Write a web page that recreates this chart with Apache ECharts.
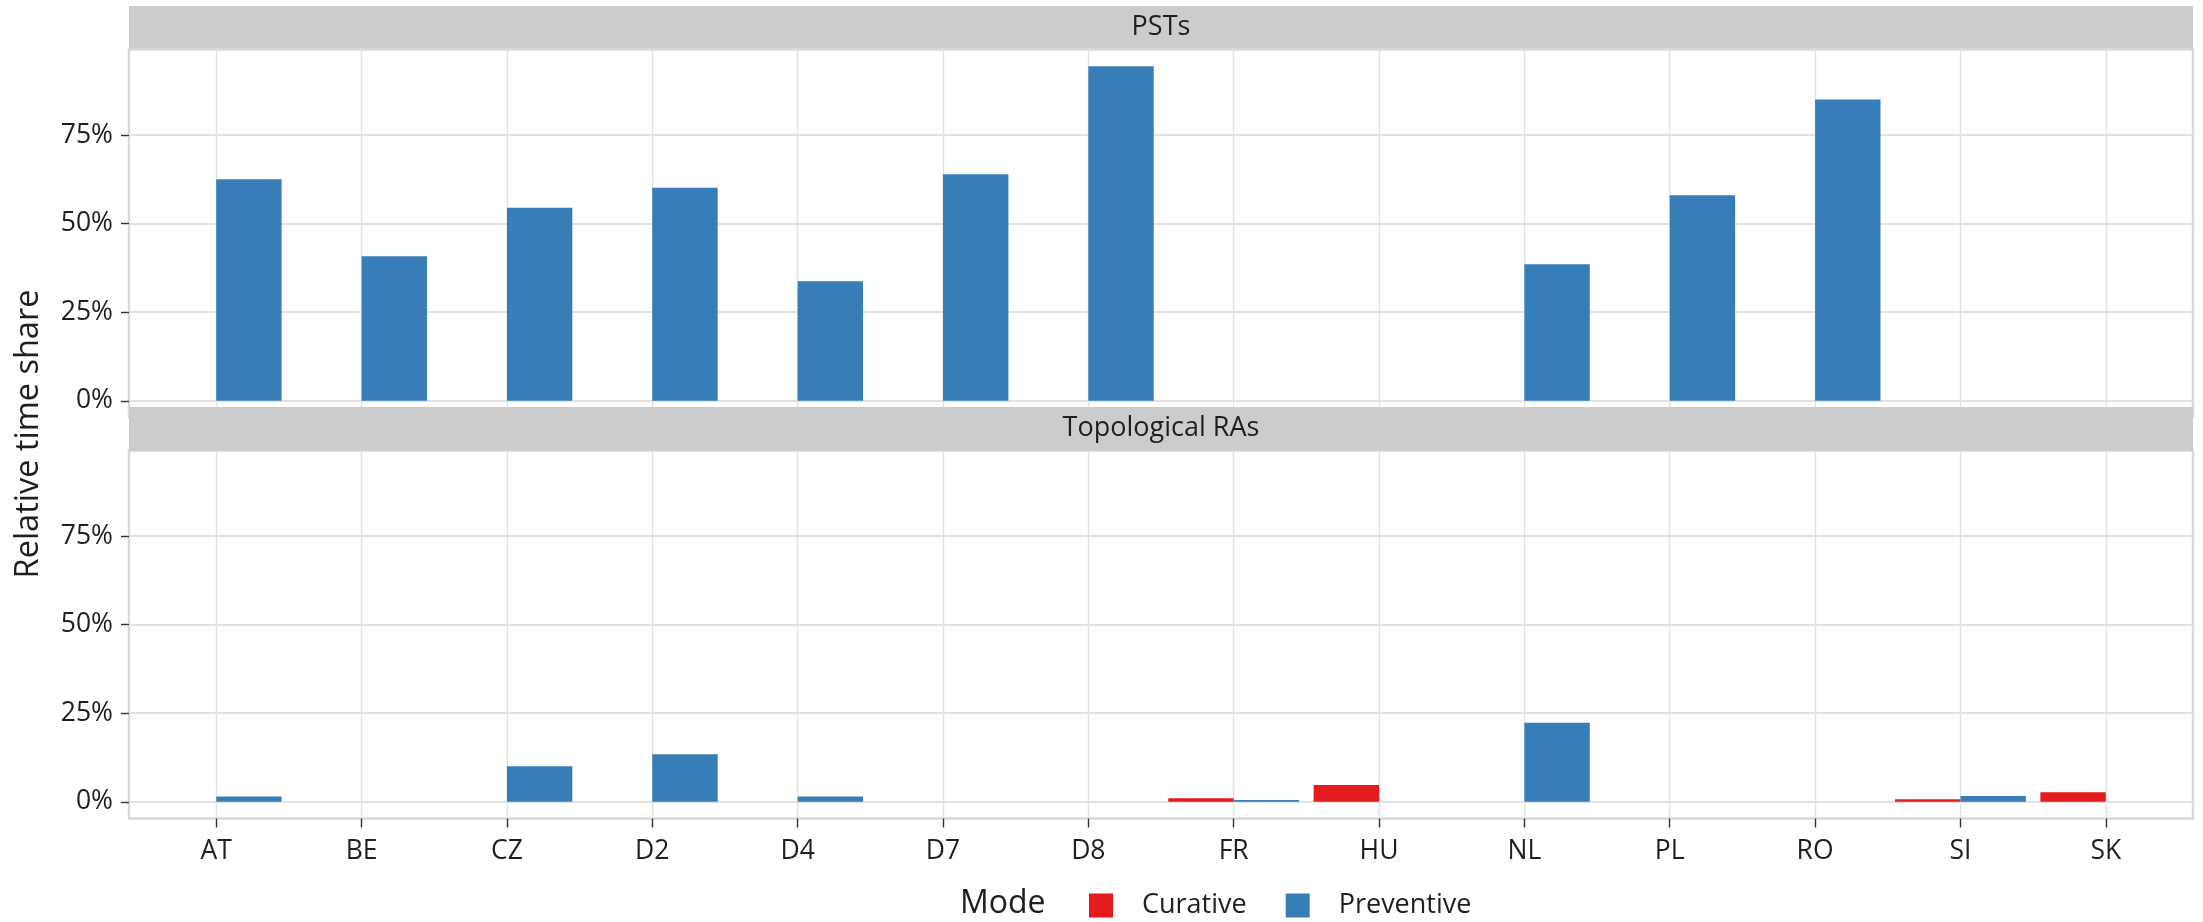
<!DOCTYPE html>
<html>
<head>
<meta charset="utf-8">
<script src="https://cdn.jsdelivr.net/npm/echarts@6/dist/echarts.min.js"></script>
<style>
  html, body { margin: 0; padding: 0; background: #ffffff; }
  #chart { width: 2203px; height: 922px; }
</style>
</head>
<body>
<div id="chart"></div>
<script>
// Regions on the x axis
const regions = ['AT', 'BE', 'CZ', 'D2', 'D4', 'D7', 'D8', 'FR', 'HU', 'NL', 'PL', 'RO', 'SI', 'SK'];
// Facet titles
const facets = ['PSTs', 'Topological RAs'];
// Remedial action modes
const modes = ['Curative', 'Preventive'];
// Relative time share (%) per region
const pstCurative    = [null, null, null, null, null, null, null, null, null, null, null, null, null, null];
const pstPreventive  = [62.5, 40.8, 54.5, 60.1, 33.7, 63.9, 94.4, null, null, 38.5, 58.0, 85.0, null, null];
const topoCurative   = [null, null, null, null, null, null, null, 1.0, 4.7, null, null, null, 0.7, 2.7];
const topoPreventive = [1.5, null, 10.0, 13.4, 1.5, null, null, 0.5, null, 22.3, null, null, 1.6, null];
// Y tick values
const yTicks = [0, 25, 50, 75];

const facetData = [
  [pstCurative, pstPreventive],
  [topoCurative, topoPreventive]
];
const modeColors = ['#E41A1C', '#377EB8'];

// Layout
const FONT = '"Open Sans", "Noto Sans", sans-serif';
const PANEL_LEFT = 129;
const PANEL_WIDTH = 2064;
const PANEL_HEIGHT = 368;
const panelTops = [49.5, 450.5];
const strips = [{ y: 6, h: 42.5 }, { y: 407, h: 43.5 }];
const Y_MIN = -4.72, Y_MAX = 99.12;
const X_MIN = -0.6, X_MAX = regions.length - 1 + 0.6;
const GRID_COLOR = '#e2e2e2';
const BORDER_COLOR = '#d9d9d9';
const TEXT_COLOR = '#1f1f1f';
const SMALL = 26.5;
const xIdx = regions.map((_, i) => i);

const chart = echarts.init(document.getElementById('chart'), null, { renderer: 'canvas' });

const grids = panelTops.map(top => ({
  left: PANEL_LEFT, top: top, width: PANEL_WIDTH, height: PANEL_HEIGHT,
  show: true, backgroundColor: '#ffffff',
  borderColor: BORDER_COLOR, borderWidth: 2.5,
  containLabel: false
}));

const xAxes = panelTops.map((_, f) => ({
  type: 'value', gridIndex: f, min: X_MIN, max: X_MAX,
  position: 'bottom',
  axisLine: { show: false, onZero: false },
  axisTick: {
    show: f === 1, customValues: xIdx, length: 9, inside: false,
    lineStyle: { color: '#333333', width: 1.4 }
  },
  axisLabel: {
    show: f === 1, customValues: xIdx, margin: 19,
    formatter: v => regions[Math.round(v)] || '',
    fontFamily: FONT, fontSize: SMALL, color: TEXT_COLOR
  },
  splitLine: { show: true, lineStyle: { color: GRID_COLOR, width: 1.4 } }
}));

const yAxes = panelTops.map((_, f) => ({
  type: 'value', gridIndex: f, min: Y_MIN, max: Y_MAX,
  position: 'left',
  axisLine: { show: false, onZero: false },
  axisTick: {
    show: true, customValues: yTicks, length: 8,
    lineStyle: { color: '#333333', width: 1.4 }
  },
  axisLabel: {
    customValues: yTicks, margin: 16,
    formatter: v => v + '%',
    fontFamily: FONT, fontSize: SMALL, color: TEXT_COLOR
  },
  splitLine: { show: true, lineStyle: { color: GRID_COLOR, width: 1.8 } }
}));

const series = [];
facetData.forEach((pair, f) => {
  pair.forEach((values, m) => {
    const data = [];
    values.forEach((v, i) => { if (v !== null) data.push([i, v]); });
    series.push({
      type: 'bar', name: modes[m], xAxisIndex: f, yAxisIndex: f,
      data: data,
      barGap: '0%', barCategoryGap: '10%',
      itemStyle: { color: modeColors[m] },
      emphasis: { disabled: true },
      animation: false
    });
  });
});

const graphics = [];
strips.forEach((s, f) => {
  graphics.push({
    type: 'rect', z: 50,
    shape: { x: PANEL_LEFT, y: s.y, width: PANEL_WIDTH, height: s.h },
    style: { fill: '#cccccc' }
  });
  graphics.push({
    type: 'text', z: 51,
    x: PANEL_LEFT + PANEL_WIDTH / 2, y: s.y + s.h / 2,
    style: {
      text: facets[f], font: '27px ' + FONT, fill: TEXT_COLOR,
      align: 'center', verticalAlign: 'middle'
    }
  });
});
graphics.push({
  type: 'text', z: 51, x: 29, y: 434, rotation: Math.PI / 2,
  style: {
    text: 'Relative time share', font: '32.5px ' + FONT, fill: TEXT_COLOR,
    align: 'center', verticalAlign: 'middle'
  }
});
graphics.push({
  type: 'text', z: 51, x: 960, y: 904,
  style: {
    text: 'Mode', font: '32px ' + FONT, fill: TEXT_COLOR,
    align: 'left', verticalAlign: 'middle'
  }
});

chart.setOption({
  backgroundColor: '#ffffff',
  animation: false,
  grid: grids,
  xAxis: xAxes,
  yAxis: yAxes,
  series: series,
  legend: {
    data: modes, left: 1089, top: 892, padding: 0,
    icon: 'rect', itemWidth: 24, itemHeight: 24, itemGap: 39,
    selectedMode: false,
    textStyle: { fontFamily: FONT, fontSize: 27, color: TEXT_COLOR, padding: [0, 0, 0, 24] }
  },
  graphic: graphics
});
</script>
</body>
</html>
